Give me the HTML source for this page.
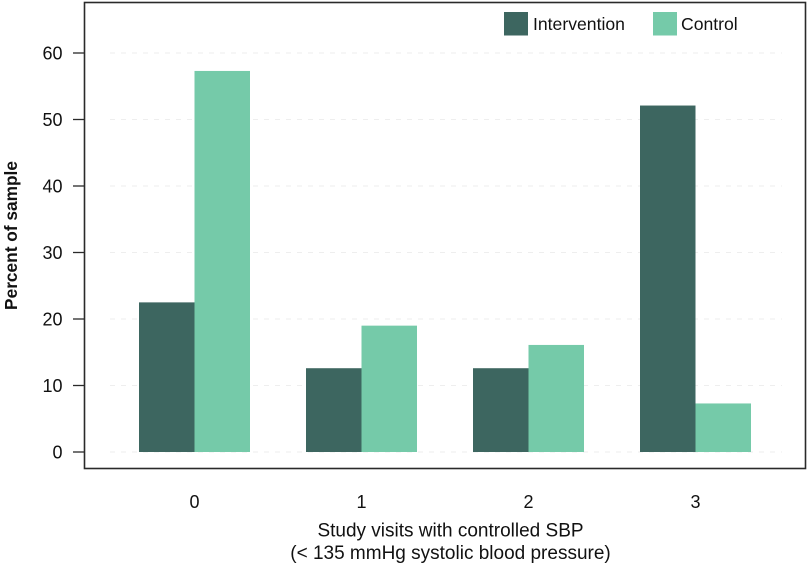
<!DOCTYPE html>
<html>
<head>
<meta charset="utf-8">
<style>
html,body{margin:0;padding:0;background:#fff;width:809px;height:566px;overflow:hidden}
svg{display:block;font-family:"Liberation Sans",sans-serif}
text{fill:#111}
</style>
</head>
<body>
<svg id="chart" width="809" height="566" viewBox="0 0 809 566" xmlns="http://www.w3.org/2000/svg"></svg>
<script>
const categories = ['0', '1', '2', '3'];
const interventionValues = [22.5, 12.6, 12.6, 52.1];
const controlValues = [57.3, 19.0, 16.1, 7.3];
const yTicks = [0, 10, 20, 30, 40, 50, 60];
const seriesNames = ['Intervention', 'Control'];
const xTitleLines = ['Study visits with controlled SBP', '(< 135 mmHg systolic blood pressure)'];
const yTitle = 'Percent of sample';

const NS = 'http://www.w3.org/2000/svg';
const svg = document.getElementById('chart');
const COLORS = ['#3d6660', '#75caa9'];
const y = v => 452 - v * 6.65;
const x = i => 194.5 + i * 167;
const BW = 55.5;

function make(tag, attrs, text) {
  const el = document.createElementNS(NS, tag);
  for (const k in attrs) el.setAttribute(k, attrs[k]);
  if (text !== undefined) el.textContent = text;
  svg.appendChild(el);
  return el;
}

yTicks.forEach(t => {
  const g = make('line', {x1: 110, x2: 782, y1: y(t), y2: y(t), stroke: '#eeeeee', 'stroke-width': 1, 'stroke-dasharray': '5 6'});
  
  
});

categories.forEach((c, i) => {
  const a = make('rect', {x: x(i) - BW, y: y(interventionValues[i]), width: BW, height: y(0) - y(interventionValues[i]), fill: COLORS[0]});
  
  
  const b = make('rect', {x: x(i), y: y(controlValues[i]), width: BW, height: y(0) - y(controlValues[i]), fill: COLORS[1]});
  
  
  const l = make('text', {x: x(i), y: 508, 'text-anchor': 'middle', 'font-size': 18}, c);
  
  
});

const frame = make('rect', {x: 84.5, y: 2.5, width: 721, height: 466, fill: 'none', stroke: '#2a2a2a', 'stroke-width': 1.6});



yTicks.forEach(t => {
  const m = make('line', {x1: 73, x2: 84.5, y1: y(t), y2: y(t), stroke: '#2a2a2a', 'stroke-width': 1.3});
  
  
  const l = make('text', {x: 62.5, y: y(t) + 6.5, 'text-anchor': 'end', 'font-size': 18}, String(t));
  
  
});

const yt = make('text', {transform: 'translate(17,235.5) rotate(-90)', 'text-anchor': 'middle', 'font-size': 17.3, 'font-weight': 'bold'}, yTitle);



xTitleLines.forEach((s, i) => {
  const t = make('text', {x: 450.5, y: 536.5 + i * 22.5, 'text-anchor': 'middle', 'font-size': 19}, s);
  
  
});

[[504, 533], [653, 681]].forEach((p, i) => {
  const s = make('rect', {x: p[0], y: 12, width: 24, height: 23.5, fill: COLORS[i]});
  
  
  const t = make('text', {x: p[1], y: 30, 'font-size': 17.6}, seriesNames[i]);
  
  
});
</script>
</body>
</html>
